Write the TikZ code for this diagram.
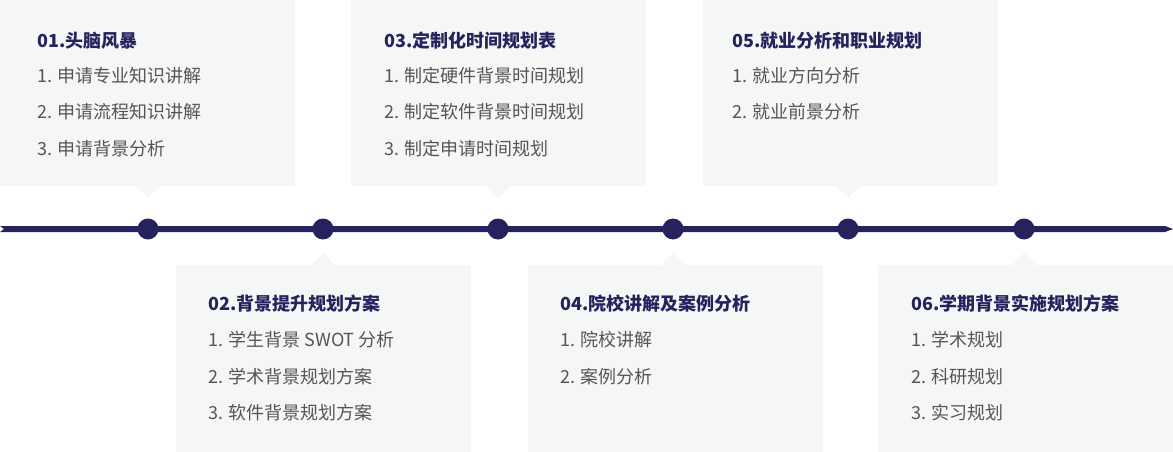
\documentclass[tikz,border=0pt]{standalone}
\usepackage{fontspec}
\setmainfont{Noto Sans CJK SC}
\newfontfamily\titlefont{Noto Sans CJK SC}[BoldFont=* Bold]
\begin{document}
\begin{tikzpicture}[x=1pt,y=-1pt,
  boxfill/.style={fill=boxgray,draw=none},
  titletext/.style={anchor=west,inner sep=0pt,text=navy,font=\fontsize{18}{20}\selectfont\bfseries},
  itemtext/.style={anchor=west,inner sep=0pt,text=itemgray,font=\fontsize{18}{20}\selectfont},
  dot/.style={circle,fill=navy,minimum size=21pt,inner sep=0pt}]
\definecolor{boxgray}{HTML}{F5F6F6}
\definecolor{navy}{HTML}{25235E}
\definecolor{itemgray}{HTML}{555555}
\useasboundingbox (0,0) rectangle (1173,452);
% timeline
\fill[navy] (0,226) -- (1165,226) -- (1173,229) -- (1165,232) -- (0,232) -- (4,229) -- cycle;
% top boxes
\foreach \l/\c in {0/148,351/498,703/848}{
  \fill[boxgray] (\l,0) rectangle ++(295,186);
  \fill[boxgray] (\c-12,186) -- (\c,198) -- (\c+12,186) -- cycle;
}
\foreach \l/\c in {176/323,528/673,878/1024}{
  \fill[boxgray] (\l,265) rectangle ++(295,187);
  \fill[boxgray] (\c-12,265) -- (\c,253) -- (\c+12,265) -- cycle;
}
\foreach \x/\n in {148/d1,323/d2,498/d3,673/d4,848/d5,1024/d6}
  \node[dot] (\n) at (\x,229) {};
% texts box1
\node[titletext] (t1) at (37,41) {01.头脑风暴};
\node[itemtext] (t1a) at (37,76) {1. 申请专业知识讲解};
\node[itemtext] (t1b) at (37,112) {2. 申请流程知识讲解};
\node[itemtext] (t1c) at (37,149) {3. 申请背景分析};
% box3
\node[titletext] (t3) at (384,41) {03.定制化时间规划表};
\node[itemtext] (t3a) at (384,76) {1. 制定硬件背景时间规划};
\node[itemtext] (t3b) at (384,112) {2. 制定软件背景时间规划};
\node[itemtext] (t3c) at (384,149) {3. 制定申请时间规划};
% box5
\node[titletext] (t5) at (732,41) {05.就业分析和职业规划};
\node[itemtext] (t5a) at (732,76) {1. 就业方向分析};
\node[itemtext] (t5b) at (732,112) {2. 就业前景分析};
% box2
\node[titletext] (t2) at (208,304) {02.背景提升规划方案};
\node[itemtext] (t2a) at (208,340) {1. 学生背景 SWOT 分析};
\node[itemtext] (t2b) at (208,377) {2. 学术背景规划方案};
\node[itemtext] (t2c) at (208,413) {3. 软件背景规划方案};
% box4
\node[titletext] (t4) at (560,304) {04.院校讲解及案例分析};
\node[itemtext] (t4a) at (560,340) {1. 院校讲解};
\node[itemtext] (t4b) at (560,377) {2. 案例分析};
% box6
\node[titletext] (t6) at (911,304) {06.学期背景实施规划方案};
\node[itemtext] (t6a) at (911,340) {1. 学术规划};
\node[itemtext] (t6b) at (911,377) {2. 科研规划};
\node[itemtext] (t6c) at (911,413) {3. 实习规划};
\end{tikzpicture}
\end{document}
